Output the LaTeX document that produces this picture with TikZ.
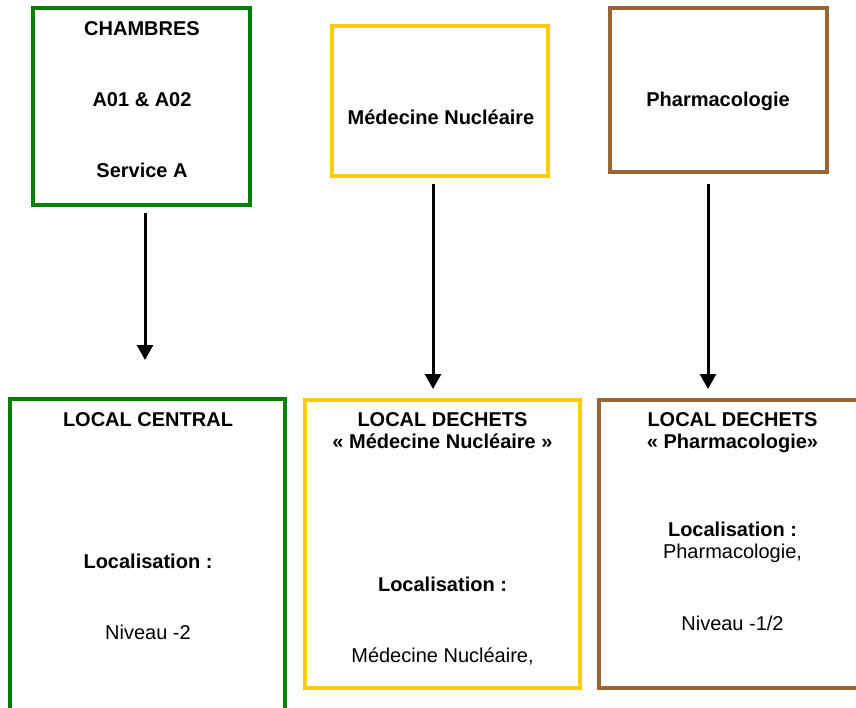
\documentclass[tikz,border=0pt]{standalone}
\usepackage{fontspec}
\setmainfont{Liberation Sans}
\usetikzlibrary{arrows.meta}
\definecolor{cgreen}{RGB}{0,128,0}
\definecolor{cgold}{RGB}{255,204,0}
\definecolor{cbrown}{RGB}{153,102,51}
\begin{document}
\begin{tikzpicture}[x=1pt,y=-1pt,
  box/.style={draw,line width=3.5pt,rectangle,inner sep=0pt},
  lbl/.style={inner sep=0pt,anchor=base,font=\fontsize{20}{23}\selectfont\bfseries},
  txt/.style={inner sep=0pt,anchor=base,font=\fontsize{20}{23}\selectfont},
  arr/.style={line width=3pt,-{Triangle[width=16pt,length=15pt]}}]
\clip (0,0) rectangle (856,707);
\fill[white] (0,0) rectangle (856,707);
% top boxes
\node[box,cgreen,minimum width=217pt,minimum height=197pt] (b1) at (141.5,106.5) {};
\node[box,cgold,minimum width=216pt,minimum height=150pt] (b2) at (440,101) {};
\node[box,cbrown,minimum width=217pt,minimum height=164pt] (b3) at (718.5,90) {};
% bottom boxes
\node[box,cgreen,minimum width=275pt,minimum height=314pt] (b4) at (147.5,556) {};
\node[box,cgold,minimum width=275pt,minimum height=288pt] (b5) at (442.5,544) {};
\node[box,cbrown,minimum width=267pt,minimum height=288pt] (b6) at (732.5,544) {};
% texts
\node[lbl] (t1a) at (142,35) {CHAMBRES};
\node[lbl] (t1b) at (142,106) {A01 \& A02};
\node[lbl] (t1c) at (142,177) {Service A};
\node[lbl] (t2) at (441,124) {Médecine Nucléaire};
\node[lbl] (t3) at (718,106) {Pharmacologie};
\node[lbl] (t4a) at (148,426) {LOCAL CENTRAL};
\node[lbl] (t4b) at (148,568) {Localisation :};
\node[txt] (t4c) at (148,639) {Niveau -2};
\node[lbl] (t5a) at (442.5,426) {LOCAL DECHETS};
\node[lbl] (t5b) at (442.5,448) {« Médecine Nucléaire »};
\node[lbl] (t5c) at (442.5,591) {Localisation :};
\node[txt] (t5d) at (442.5,662) {Médecine Nucléaire,};
\node[lbl] (t6a) at (732.5,426) {LOCAL DECHETS};
\node[lbl] (t6b) at (732.5,448) {« Pharmacologie»};
\node[lbl] (t6c) at (732.5,536) {Localisation :};
\node[txt] (t6d) at (732.5,558) {Pharmacologie,};
\node[txt] (t6e) at (732.5,630) {Niveau -1/2};
% arrows
\coordinate (a1s) at (145,213);
\coordinate (a1e) at (145,360);
\coordinate (a2s) at (433,184);
\coordinate (a2e) at (433,389);
\coordinate (a3s) at (708,184);
\coordinate (a3e) at (708,389);
\draw[arr] (a1s) -- (a1e);
\draw[arr] (a2s) -- (a2e);
\draw[arr] (a3s) -- (a3e);
\end{tikzpicture}
\end{document}
